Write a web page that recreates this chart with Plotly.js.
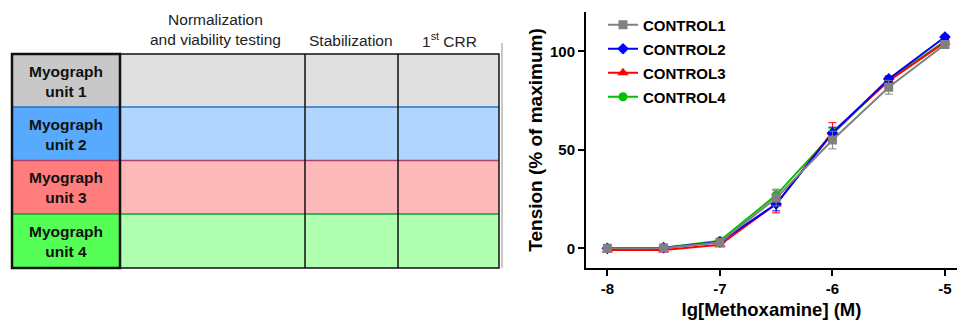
<!DOCTYPE html>
<html>
<head>
<meta charset="utf-8">
<script src="https://cdn.plot.ly/plotly-3.0.1.min.js"></script>
<style>html,body{margin:0;padding:0;background:#fff;}#chart{width:957px;height:323px;}</style>
</head>
<body>
<div id="chart"></div>
<script>
// ---- Data ----
const doseLog = [-8, -7.5, -7, -6.5, -6, -5.5, -5];
const seriesNames = ['CONTROL1', 'CONTROL2', 'CONTROL3', 'CONTROL4'];
const control1 = [0.0, 0.2, 3.0, 25.5, 55.0, 81.8, 103.5];
const control1Err = [0.8, 0.8, 1.0, 4.0, 4.5, 3.5, 1.5];
const control2 = [0.0, 0.3, 3.2, 22.5, 58.5, 86.0, 107.3];
const control2Err = [0.5, 0.5, 0.8, 3.5, 3.0, 1.5, 1.0];
const control3 = [-0.8, -0.8, 1.8, 22.5, 59.0, 85.0, 104.7];
const control3Err = [0.8, 0.8, 1.0, 4.5, 4.8, 2.0, 1.2];
const control4 = [0.2, 0.3, 3.8, 27.0, 58.0, 85.5, 105.2];
const control4Err = [0.5, 0.5, 0.8, 3.0, 3.0, 1.5, 1.0];
const xTickVals = [-8, -7, -6, -5];
const xTickText = ['-8', '-7', '-6', '-5'];
const yTickVals = [0, 50, 100];
const yTickText = ['0', '50', '100'];
const unitLabels = ['Myograph<br>unit 1', 'Myograph<br>unit 2', 'Myograph<br>unit 3', 'Myograph<br>unit 4'];
const phaseLabels = ['Normalization<br>and viability testing', 'Stabilization', '1<sup>st</sup> CRR'];

// ---- Geometry / styles ----
const W = 957, H = 323;
const px = x => x / W;
const py = y => 1 - y / H;
const FONT = '"Liberation Sans", Arial, sans-serif';

const tableLeft = 12, headRight = 120, tableRight = 499;
const rowEdges = [54, 107, 160.5, 214, 268];
const headFill = ['#c8c8c8', '#58aaff', '#ff7d7d', '#55ff55'];
const cellFill = ['#e0e0e0', '#b0d5ff', '#fdb9b9', '#b0ffb0'];
const dividerColor = ['#2a70c8', '#b04070', '#10a030'];

const shapes = [];
const annotations = [];
for (let i = 0; i < 4; i++) {
  shapes.push({type: 'rect', xref: 'paper', yref: 'paper', x0: px(tableLeft), x1: px(headRight),
    y0: py(rowEdges[i + 1]), y1: py(rowEdges[i]), fillcolor: headFill[i], line: {width: 0}, layer: 'below'});
  shapes.push({type: 'rect', xref: 'paper', yref: 'paper', x0: px(headRight), x1: px(tableRight),
    y0: py(rowEdges[i + 1]), y1: py(rowEdges[i]), fillcolor: cellFill[i], line: {width: 0}, layer: 'below'});
  annotations.push({xref: 'paper', yref: 'paper', x: px((tableLeft + headRight) / 2),
    y: py((rowEdges[i] + rowEdges[i + 1]) / 2 + 0.5), text: unitLabels[i], showarrow: false,
    xanchor: 'center', yanchor: 'middle', font: {family: FONT, size: 15.5, weight: 700, color: '#111'}});
}
for (let i = 0; i < 3; i++) {
  shapes.push({type: 'line', xref: 'paper', yref: 'paper', x0: px(tableLeft), x1: px(tableRight),
    y0: py(rowEdges[i + 1]), y1: py(rowEdges[i + 1]), line: {color: dividerColor[i], width: 1.5}});
}
[305, 398].forEach(x => shapes.push({type: 'line', xref: 'paper', yref: 'paper', x0: px(x), x1: px(x),
  y0: py(rowEdges[0]), y1: py(rowEdges[4]), line: {color: '#111', width: 1.5}}));
shapes.push({type: 'rect', xref: 'paper', yref: 'paper', x0: px(headRight), x1: px(tableRight),
  y0: py(rowEdges[4]), y1: py(rowEdges[0]), line: {color: '#111', width: 1.5}, fillcolor: 'rgba(0,0,0,0)'});
shapes.push({type: 'rect', xref: 'paper', yref: 'paper', x0: px(tableLeft), x1: px(headRight),
  y0: py(rowEdges[4]), y1: py(rowEdges[0]), line: {color: '#111', width: 2.5}, fillcolor: 'rgba(0,0,0,0)'});
shapes.push({type: 'line', xref: 'paper', yref: 'paper', x0: px(502), x1: px(502),
  y0: py(43), y1: py(268), line: {color: '#b4b4b4', width: 1.5}});

const phaseX = [215, 351, 449];
const phaseY = [30, 40.5, 40];
for (let i = 0; i < 3; i++) {
  annotations.push({xref: 'paper', yref: 'paper', x: px(phaseX[i]), y: py(phaseY[i]), text: phaseLabels[i],
    showarrow: false, xanchor: 'center', yanchor: 'middle', font: {family: FONT, size: 15.5, color: '#222'}});
}

// ---- Traces (drawn so CONTROL1 is on top) ----
const seriesY = [control1, control2, control3, control4];
const seriesErr = [control1Err, control2Err, control3Err, control4Err];
const colors = ['#808080', '#0000ff', '#ff0000', '#00c000'];
const symbols = ['square', 'diamond', 'triangle-up', 'circle'];
const sizes = [9, 9, 10, 9];
const traces = [];
for (let i = 3; i >= 0; i--) {
  traces.push({
    x: doseLog, y: seriesY[i], name: seriesNames[i], type: 'scatter', mode: 'lines+markers',
    legendrank: i + 1, legendgroup: 'g' + i,
    line: {color: colors[i], width: 2},
    marker: {symbol: symbols[i], size: sizes[i], color: colors[i]},
    error_y: {type: 'data', array: seriesErr[i], visible: true, color: colors[i], thickness: 1, width: 4}
  });
}

const layout = {
  width: W, height: H,
  margin: {l: 0, r: 0, t: 0, b: 0},
  paper_bgcolor: '#fff', plot_bgcolor: 'rgba(0,0,0,0)',
  font: {family: FONT, color: '#000'},
  showlegend: true,
  legend: {x: px(603), y: py(8.5), xanchor: 'left', yanchor: 'top', traceorder: 'grouped', tracegroupgap: 1.5,
    bgcolor: 'rgba(0,0,0,0)', font: {family: FONT, size: 15, weight: 700, color: '#000'}},
  xaxis: {domain: [px(586), 1], range: [-8.19, -4.893], tickvals: xTickVals, ticktext: xTickText,
    showline: true, linecolor: '#000', linewidth: 2, ticks: 'outside', ticklen: 6, tickwidth: 2, tickcolor: '#000',
    showgrid: false, zeroline: false, tickfont: {family: FONT, size: 15, weight: 700},
    title: {text: 'lg[Methoxamine] (M)', font: {family: FONT, size: 18.5, weight: 700}, standoff: 7}},
  yaxis: {domain: [py(268), py(12)], range: [-10, 120], tickvals: yTickVals, ticktext: yTickText,
    showline: true, linecolor: '#000', linewidth: 2, ticks: 'outside', ticklen: 6, tickwidth: 2, tickcolor: '#000',
    showgrid: false, zeroline: false, tickfont: {family: FONT, size: 15, weight: 700},
    title: {text: 'Tension (% of maximum)', font: {family: FONT, size: 19, weight: 700}, standoff: 2}},
  shapes: shapes,
  annotations: annotations
};

Plotly.newPlot('chart', traces, layout, {displayModeBar: false, staticPlot: true});
</script>
</body>
</html>
